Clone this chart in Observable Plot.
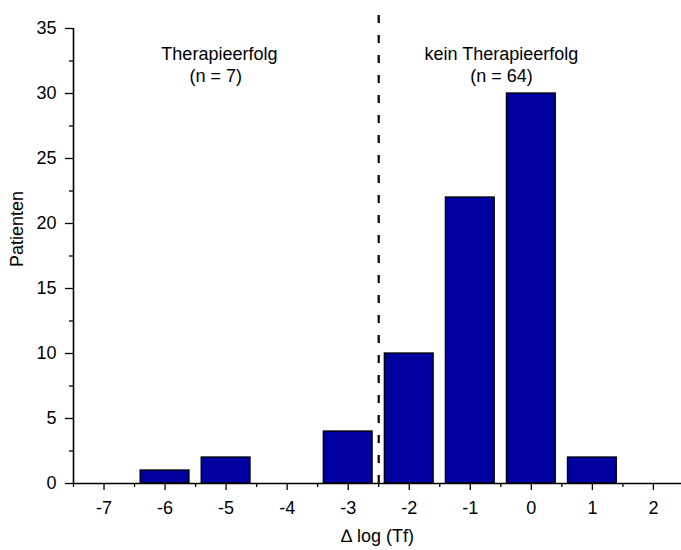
<!DOCTYPE html>
<html>
<head>
<meta charset="utf-8">
<script src="https://cdn.jsdelivr.net/npm/d3@7"></script>
<script src="https://cdn.jsdelivr.net/npm/@observablehq/plot@0.6"></script>
<style>
  html, body { margin: 0; padding: 0; background: white; }
</style>
</head>
<body>
<div id="chart"></div>
<script>
// Histogram of the change in log(Tf) per patient
const deltaLogTf = [-7, -6, -5, -4, -3, -2, -1, 0, 1, 2];
const patients   = [ 0,  1,  2,  0,  4, 10, 22, 30, 2, 0];
const xTicks = [-7, -6, -5, -4, -3, -2, -1, 0, 1, 2];
const yTicks = [0, 5, 10, 15, 20, 25, 30, 35];
const cutoff = -2.5;
const groupNames = ["Therapieerfolg", "kein Therapieerfolg"];

const bins = deltaLogTf.map((d, i) => ({x: d, n: patients[i]}));
const nSuccess = d3.sum(bins.filter(b => b.x < cutoff), b => b.n);
const nFailure = d3.sum(bins.filter(b => b.x > cutoff), b => b.n);

const xMinor = d3.range(-7.5, 2.6, 1);
const yMinor = d3.range(2.5, 35, 5);
const barHalf = 0.4;

const font = "'Liberation Sans', Arial, Helvetica, sans-serif";
const fs = 18;

const chart = Plot.plot({
  width: 681,
  height: 550,
  marginTop: 28,
  marginBottom: 67,
  marginLeft: 73,
  marginRight: 0,
  style: {fontFamily: font, fontSize: fs + "px", color: "black", background: "white"},
  x: {domain: [-7.5, 2.46]},
  y: {domain: [0, 35]},
  marks: [
    Plot.rect(bins.filter(b => b.n > 0), {
      x1: b => b.x - barHalf,
      x2: b => b.x + barHalf,
      y1: 0,
      y2: "n",
      fill: "#0000a0",
      stroke: "black",
      strokeWidth: 1.3
    }),
    // dashed divider between the two outcome groups
    Plot.ruleX([cutoff], {y1: 0, y2: 36.2, stroke: "black", strokeWidth: 2.2, strokeDasharray: "8,12"}),
    // axis lines
    Plot.ruleY([0], {x1: -7.5, x2: 2.5, stroke: "black", strokeWidth: 1.6}),
    Plot.ruleX([-7.5], {y1: 0, y2: 35, stroke: "black", strokeWidth: 1.6}),
    // major and minor ticks
    Plot.axisX({ticks: xTicks, tickSize: 7, tickPadding: 11, fontSize: fs, label: null, strokeWidth: 1.3, tickFormat: d => String(d).replace("−", "-")}),
    Plot.axisX({ticks: xMinor, tickSize: 4, tickFormat: () => "", label: null, strokeWidth: 1.3}),
    Plot.axisY({ticks: yTicks, tickSize: 8, tickPadding: 9, fontSize: fs, label: null, strokeWidth: 1.3}),
    Plot.axisY({ticks: yMinor, tickSize: 4, tickFormat: () => "", label: null, strokeWidth: 1.3}),
    // axis titles
    Plot.text(["\u2206 log (Tf)"], {frameAnchor: "bottom", lineAnchor: "middle", dy: 53, fontSize: fs, fill: "black"}),
    Plot.text(["Patienten"], {frameAnchor: "left", lineAnchor: "middle", dx: -56, dy: 11, rotate: -90, fontSize: fs, fill: "black"}),
    // group annotations
    Plot.text([groupNames[0]], {x: -5.11, y: 33.0, fontSize: fs, fill: "black"}),
    Plot.text([`(n = ${nSuccess})`], {x: -5.17, y: 31.36, fontSize: fs, fill: "black"}),
    Plot.text([groupNames[1]], {x: -0.49, y: 33.0, fontSize: fs, fill: "black"}),
    Plot.text([`(n = ${nFailure})`], {x: -0.49, y: 31.36, fontSize: fs, fill: "black"})
  ]
});

document.getElementById("chart").appendChild(chart);
</script>
</body>
</html>
